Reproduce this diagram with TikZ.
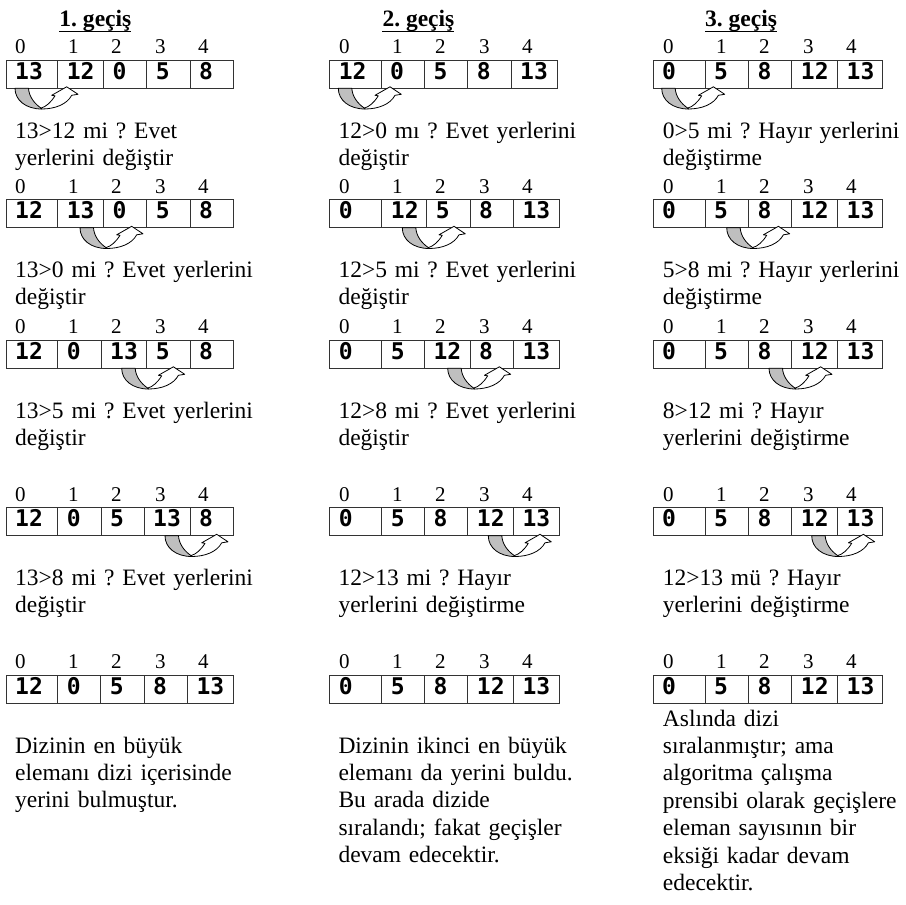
\documentclass[tikz,border=0pt]{standalone}
\usepackage{fontspec}
\setmainfont{Liberation Serif}
\newfontfamily\monofont{DejaVu Sans Mono}
\frenchspacing
\tikzset{
  indis/.style={anchor=base west, inner sep=0pt, font=\fontsize{21bp}{24bp}\selectfont},
  sayi/.style={anchor=base west, inner sep=0pt, font=\monofont\bfseries\fontsize{23bp}{26bp}\selectfont},
  metin/.style={anchor=base west, inner sep=0pt, text width=300bp, align=left, font=\fontsize{23.5bp}{27.4bp}\selectfont},
  baslik/.style={anchor=base west, inner sep=0pt, font=\bfseries\fontsize{23.5bp}{27bp}\selectfont},
  hucre/.style={draw=black!80, line width=1bp},
  ok/.style={draw=black, line width=0.8bp, line join=round},
}
\newcommand\dizi[4]{%
  \foreach \d/\o in {0/0,1/53,2/96,3/140,4/183}
    \node[indis] (#1i\d) at (#2+\o,#3-6.5) {\d};
  \foreach \l/\r/\v [count=\i from 0] in {#4}{
    \draw[hucre] (\l,#3) rectangle (\r,#3+28.3);
    \node[sayi] (#1s\i) at (\l+9,#3+19) {\v};
  }}
\newcommand\takas[2]{%
  \begin{scope}[shift={(#1,#2)}]
    \filldraw[ok, fill=black!25] (0,0) .. controls (0,12) and (11,20.7) .. (26.7,20.7)
      -- (26,19.8) .. controls (19,15) and (14,8) .. (13.5,0) -- cycle;
    \filldraw[ok, fill=white] (26.7,20.7) .. controls (40,20.7) and (52,16) .. (56.7,7)
      -- (63,6) -- (51.7,-1.5) -- (36.7,7) -- (40,7.5)
      .. controls (36,14) and (31,18.5) .. (26,19.8) -- cycle;
  \end{scope}}
\begin{document}
\begin{tikzpicture}[x=1bp, y=-1bp]
  \useasboundingbox (0,0) rectangle (906,905);
  \node[baslik] (b1) at (59.3,26.7) {1. geçiş};
  \node[baslik] (b2) at (382.3,26.7) {2. geçiş};
  \node[baslik] (b3) at (705,26.7) {3. geçiş};
  \foreach \b in {b1,b2,b3}
    \draw[line width=1.2bp] ([yshift=-5bp]\b.base west) -- ([yshift=-5bp]\b.base east);

  % 1. geçiş
  \dizi{a1}{15}{60}{6/57.7/13, 57.7/103.3/12, 103.3/146.7/0, 146.7/190/5, 190/233/8}
  \takas{15}{88.3}
  \node[metin] (t11) at (15,138) {13>12 mi ? Evet\\yerlerini değiştir};
  \dizi{a2}{15}{199.5}{6/57.7/12, 57.7/103.3/13, 103.3/146.7/0, 146.7/190/5, 190/233/8}
  \takas{80}{227.8}
  \node[metin] (t12) at (15,277.5) {13>0 mi ? Evet yerlerini\\değiştir};
  \dizi{a3}{15}{340}{6/57.7/12, 57.7/101/0, 101/146.7/13, 146.7/190/5, 190/233/8}
  \takas{121.7}{368.3}
  \node[metin] (t13) at (15,418) {13>5 mi ? Evet yerlerini\\değiştir};
  \dizi{a4}{15}{507.5}{6/57.7/12, 57.7/101/0, 101/144/5, 144/190/13, 190/233/8}
  \takas{165}{535.8}
  \node[metin] (t14) at (15,585.5) {13>8 mi ? Evet yerlerini\\değiştir};
  \dizi{a5}{15}{675}{6/57.7/12, 57.7/100.7/0, 100.7/144/5, 144/187.3/8, 187.3/233/13}
  \node[metin] (t15) at (15,753) {Dizinin en büyük\\elemanı dizi içerisinde\\yerini bulmuştur.};

  % 2. geçiş
  \dizi{c1}{339}{60}{329.7/381/12, 381/424.3/0, 424.3/467.7/5, 467.7/511/8, 511/557.3/13}
  \takas{338.3}{88.3}
  \node[metin] (t21) at (338.3,138) {12>0 mı ? Evet yerlerini\\değiştir};
  \dizi{c2}{339}{199.5}{329.7/381.7/0, 381.7/426.7/12, 426.7/470/5, 470/513.3/8, 513.3/559/13}
  \takas{402.3}{227.8}
  \node[metin] (t22) at (338.3,277.5) {12>5 mi ? Evet yerlerini\\değiştir};
  \dizi{c3}{339}{340}{329.7/381.7/0, 381.7/424.3/5, 424.3/470/12, 470/513.3/8, 513.3/559/13}
  \takas{447.7}{368.3}
  \node[metin] (t23) at (338.3,418) {12>8 mi ? Evet yerlerini\\değiştir};
  \dizi{c4}{339}{507.5}{329.7/381.7/0, 381.7/424.3/5, 424.3/467.7/8, 467.7/513.3/12, 513.3/559/13}
  \takas{488.3}{535.8}
  \node[metin] (t24) at (338.3,585.5) {12>13 mi ? Hayır\\yerlerini değiştirme};
  \dizi{c5}{339}{675}{329.7/381.7/0, 381.7/424.3/5, 424.3/467.7/8, 467.7/513.3/12, 513.3/559/13}
  \node[metin] (t25) at (338.3,753) {Dizinin ikinci en büyük\\elemanı da yerini buldu.\\Bu arada dizide\\sıralandı; fakat geçişler\\devam edecektir.};

  % 3. geçiş
  \foreach \y/\n in {60/1,199.5/2,340/3,507.5/4,675/5}{
    \dizi{e\n}{663}{\y}{653/705/0, 705/748.3/5, 748.3/791.7/8, 791.7/837.5/12, 837.5/882/13}
  }
  \takas{661.7}{88.3}
  \takas{726.7}{227.8}
  \takas{769}{368.3}
  \takas{811.7}{535.8}
  \node[metin] (t31) at (662.7,138) {0>5 mi ? Hayır yerlerini\\değiştirme};
  \node[metin] (t32) at (662.7,277.5) {5>8 mi ? Hayır yerlerini\\değiştirme};
  \node[metin] (t33) at (662.7,418) {8>12 mi ? Hayır\\yerlerini değiştirme};
  \node[metin] (t34) at (662.7,585.5) {12>13 mü ? Hayır\\yerlerini değiştirme};
  \node[metin] (t35) at (662.7,726) {Aslında dizi\\sıralanmıştır; ama\\algoritma çalışma\\prensibi olarak geçişlere\\eleman sayısının bir\\eksiği kadar devam\\edecektir.};
\end{tikzpicture}
\end{document}
